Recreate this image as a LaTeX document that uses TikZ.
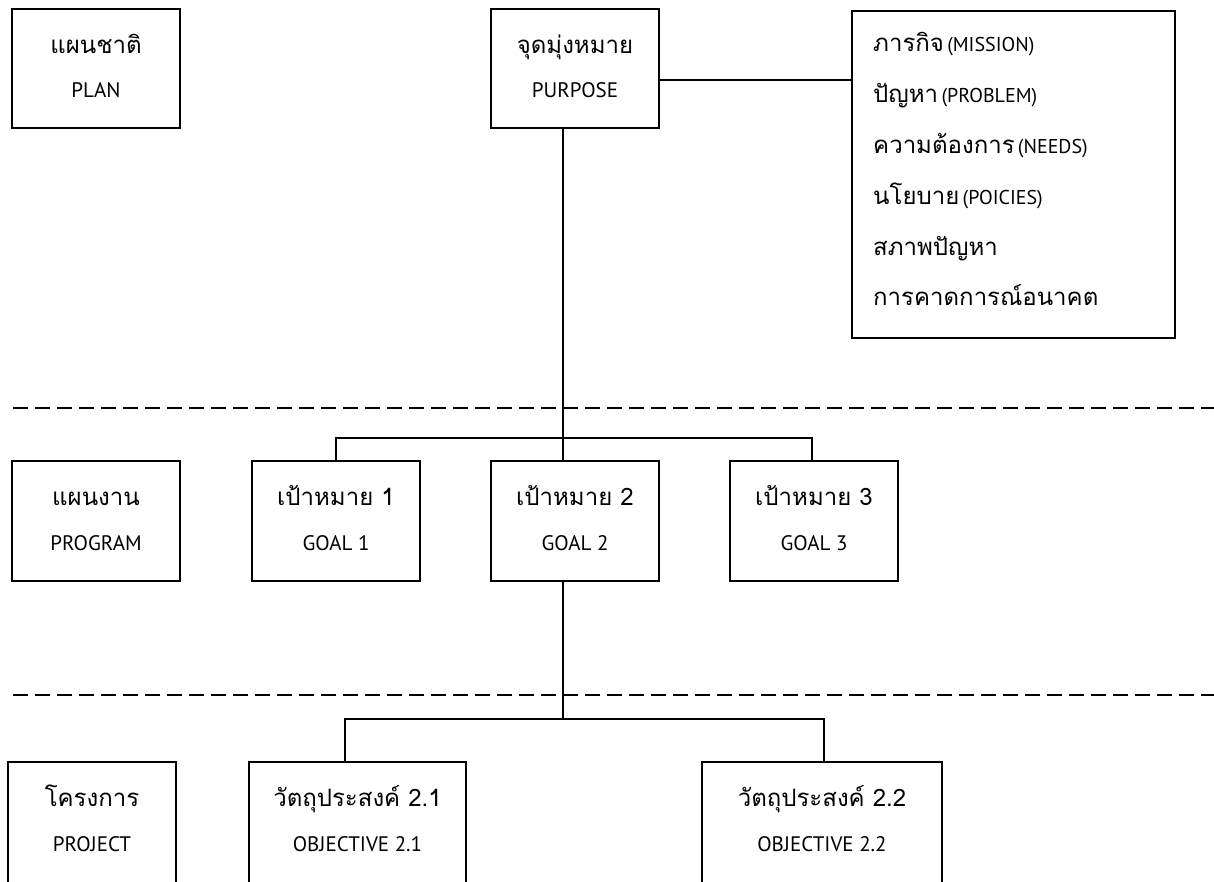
\documentclass[tikz,border=0pt]{standalone}
\usepackage{fontspec}
\newfontfamily\thaifont[Script=Thai]{Loma}
\newfontfamily\latfont{PT Sans}
\newcommand{\thtxt}[1]{{\thaifont\fontsize{24}{28}\selectfont #1}}
\newcommand{\entxt}[1]{{\latfont\fontsize{21}{25}\selectfont #1}}
\newcommand{\ensm}[1]{{\latfont\fontsize{20}{24}\selectfont #1}}
\tikzset{
  box/.style={draw=black, line width=1.6pt, fill=white, minimum width=168pt, minimum height=119pt, inner sep=0pt},
  conn/.style={draw=black, line width=1.3pt},
  sep/.style={draw=black, line width=1.5pt, dash pattern=on 15pt off 7pt},
  tl/.style={anchor=base, inner sep=0pt},
  il/.style={anchor=base west, inner sep=0pt}
}
\begin{document}
\begin{tikzpicture}[x=1pt,y=-1pt]
\useasboundingbox (0,0) rectangle (1214,881);
\clip (0,0) rectangle (1214,881);
\fill[white] (0,0) rectangle (1214,881);

% separators
\coordinate (d1a) at (13,408); \coordinate (d1b) at (1214,408);
\coordinate (d2a) at (13,695); \coordinate (d2b) at (1214,695);
\draw[sep] (d1a) -- (d1b);
\draw[sep] (d2a) -- (d2b);

% junctions
\coordinate (j1) at (563,438);
\coordinate (j2) at (563,719);

% top row
\node[box] (plan) at (96,68.5) {};
\node[box] (purpose) at (575,68.5) {};
\node[draw=black, line width=1.6pt, fill=white, inner sep=0pt, minimum width=323pt, minimum height=327pt] (info) at (1013.5,174.5) {};

% middle row
\node[box, minimum height=120pt] (program) at (96,521) {};
\node[box, minimum height=120pt] (goal1) at (336,521) {};
\node[box, minimum height=120pt] (goal2) at (575,521) {};
\node[box, minimum height=120pt] (goal3) at (814,521) {};

% bottom row
\node[box, minimum height=124pt] (project) at (92,824) {};
\node[box, minimum width=217pt, minimum height=124pt] (obj1) at (357.5,824) {};
\node[box, minimum width=240pt, minimum height=124pt] (obj2) at (822,824) {};

% connectors
\draw[conn] ([yshift=-11.5pt]purpose.east) -- ([yshift=-11.5pt]purpose.east -| info.west);
\draw[conn] ([xshift=-12pt]purpose.south) -- ([xshift=-12pt]goal2.north);
\draw[conn] (goal1.north) |- (j1) -| ([xshift=-2pt]goal3.north);
\draw[conn] ([xshift=-12pt]goal2.south) -- (j2);
\draw[conn] ([xshift=-12.5pt]obj1.north) |- (j2) -| ([xshift=2pt]obj2.north);

% texts top
\node[tl] (planT) at (96,53) {\thtxt{แผนชาติ}};
\node[tl] (planE) at (96,97) {\entxt{PLAN}};
\node[tl] (purT) at (575,53) {\thtxt{จุดมุ่งหมาย}};
\node[tl] (purE) at (575,97) {\entxt{PURPOSE}};

% info texts
\node[il] (i1) at (873,51) {\thtxt{ภารกิจ} \ensm{(MISSION)}};
\node[il] (i2) at (873,102) {\thtxt{ปัญหา} \ensm{(PROBLEM)}};
\node[il] (i3) at (873,153) {\thtxt{ความต้องการ} \ensm{(NEEDS)}};
\node[il] (i4) at (873,204) {\thtxt{นโยบาย} \ensm{(POICIES)}};
\node[il] (i5) at (873,255) {\thtxt{สภาพปัญหา}};
\node[il] (i6) at (873,305) {\thtxt{การคาดการณ์อนาคต}};

% texts middle
\node[tl] (progT) at (96,505) {\thtxt{แผนงาน}};
\node[tl] (progE) at (96,550) {\entxt{PROGRAM}};
\node[tl] (g1T) at (336,505) {\thtxt{เป้าหมาย 1}};
\node[tl] (g1E) at (336,550) {\entxt{GOAL 1}};
\node[tl] (g2T) at (575,505) {\thtxt{เป้าหมาย 2}};
\node[tl] (g2E) at (575,550) {\entxt{GOAL 2}};
\node[tl] (g3T) at (814,505) {\thtxt{เป้าหมาย 3}};
\node[tl] (g3E) at (814,550) {\entxt{GOAL 3}};

% texts bottom
\node[tl] (projT) at (92,806) {\thtxt{โครงการ}};
\node[tl] (projE) at (92,851) {\entxt{PROJECT}};
\node[tl] (o1T) at (357.5,806) {\thtxt{วัตถุประสงค์ 2.1}};
\node[tl] (o1E) at (357.5,851) {\entxt{OBJECTIVE 2.1}};
\node[tl] (o2T) at (822,806) {\thtxt{วัตถุประสงค์ 2.2}};
\node[tl] (o2E) at (822,851) {\entxt{OBJECTIVE 2.2}};
\end{tikzpicture}
\end{document}
